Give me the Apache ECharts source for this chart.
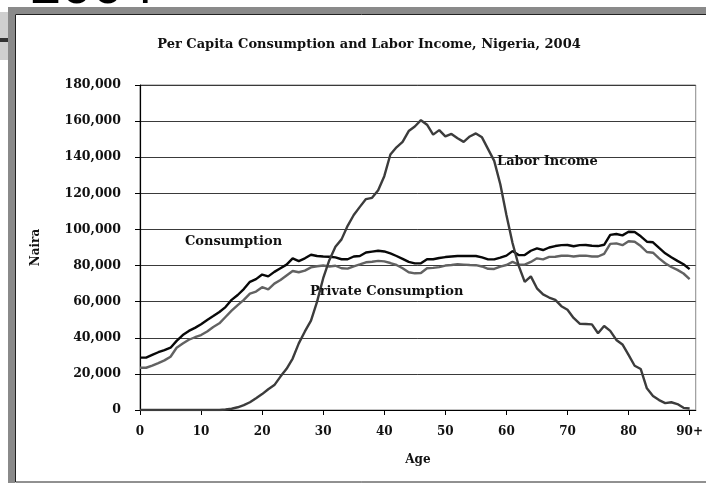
<!DOCTYPE html>
<html>
<head>
<meta charset="utf-8">
<script src="https://cdn.jsdelivr.net/npm/echarts@6/dist/echarts.min.js"></script>
<style>
  html, body { margin: 0; padding: 0; background: #fff; }
  #chartDom { width: 706px; height: 485px; }
</style>
</head>
<body>
<div id="chartDom"></div>
<script>
// ages 0 .. 90 (last one is 90+)
var ages = [];
for (var a = 0; a <= 90; a++) ages.push(a);

var consumption = [
  29000, 29000, 30500, 32000, 33200, 34500, 38300, 41500, 43800, 45500,
  47500, 49800, 52000, 54300, 57000, 61000, 63700, 67000, 71000, 72500,
  75000, 74000, 76500, 78500, 80500, 84000, 82500, 84000, 86000, 85300,
  85000, 84900, 84500, 83500, 83500, 85000, 85300, 87200, 87700, 88200,
  87800, 86700, 85300, 83700, 82000, 81200, 81300, 83500, 83500, 84200,
  84700, 85000, 85300, 85300, 85300, 85300, 84500, 83400, 83400, 84400,
  85500, 88000, 85800, 85800, 88200, 89500, 88600, 90000, 90800, 91300,
  91400, 90700, 91300, 91400, 91000, 90800, 91500, 97000, 97500, 96700,
  98700, 98600, 96200, 93200, 92900, 89800, 86800, 84600, 82600, 80700,
  78000
];
var privateConsumption = [
  23400, 23400, 24600, 26000, 27500, 29500, 34500, 36800, 38900, 40300,
  41500, 43500, 46000, 48000, 51500, 55000, 58100, 61000, 64500, 65600,
  68000, 66800, 70000, 72000, 74500, 77000, 76300, 77200, 79000, 79600,
  80000, 79500, 79900, 78500, 78300, 79600, 80600, 81800, 82100, 82600,
  82300, 81400, 80300, 78500, 76300, 75700, 75900, 78500, 78700, 79100,
  80000, 80300, 80700, 80500, 80300, 80200, 79500, 78200, 78100, 79400,
  80300, 82000, 80500, 80500, 82000, 84000, 83400, 84800, 84900, 85400,
  85500, 85000, 85400, 85500, 85000, 85000, 86500, 92000, 92300, 91300,
  93500, 93200, 90800, 87500, 87100, 84000, 81300, 79200, 77600, 75600,
  72500
];
var laborIncome = [
  0, 0, 0, 0, 0, 0, 0, 0, 0, 0,
  0, 0, 0, 0, 300, 700, 1500, 2700, 4300, 6500,
  8800, 11500, 13800, 18500, 22800, 28500, 36900, 43500, 49500, 60000,
  73000, 83000, 90400, 94500, 102000, 108000, 112500, 116800, 117500, 121700,
  129500, 141500, 145500, 148500, 154500, 157000, 160500, 158000, 152500, 155000,
  151500, 152900, 150500, 148500, 151500, 153200, 151000, 144500, 138000, 125000,
  108000, 92500, 80000, 71000, 74000, 67400, 64000, 62300, 61000, 57500,
  55500, 51000, 47800, 47600, 47400, 42500, 46500, 43800, 38800, 36300,
  30500, 24500, 22700, 12000, 7800, 5500, 3800, 4300, 3300, 1200,
  800
];
var xTicks = [0, 10, 20, 30, 40, 50, 60, 70, 80, 90];
var seriesNames = ['Consumption', 'Private Consumption', 'Labor Income'];

var serif = 'DejaVu Serif';

function pairs(vals) {
  var out = [];
  for (var i = 0; i < vals.length; i++) out.push([ages[i], vals[i]]);
  return out;
}

function lineSeries(name, vals, color) {
  return {
    name: name,
    type: 'line',
    data: pairs(vals),
    showSymbol: false,
    symbol: 'none',
    smooth: false,
    lineStyle: { color: color, width: 2.4 },
    z: 3
  };
}

var chart = echarts.init(document.getElementById('chartDom'));

var option = {
  backgroundColor: '#fff',
  animation: false,
  title: {
    text: 'Per Capita Consumption and Labor Income, Nigeria, 2004',
    left: 364,
    top: 33,
    textAlign: 'center',
    textStyle: { fontFamily: serif, fontWeight: 'bold', fontSize: 13, color: '#111' }
  },
  grid: {
    left: 140, right: 7, top: 85, bottom: 75,
    show: true, borderColor: '#888', borderWidth: 1
  },
  xAxis: {
    type: 'value',
    min: 0,
    max: 91,
    interval: 10,
    name: 'Age',
    nameLocation: 'middle',
    nameGap: 44,
    nameTextStyle: { fontFamily: serif, fontWeight: 'bold', fontSize: 12, color: '#111' },
    axisLine: { show: true, onZero: false, lineStyle: { color: '#000', width: 1.2 } },
    axisTick: { show: true, length: 5, customValues: xTicks, lineStyle: { color: '#000' } },
    axisLabel: {
      customValues: xTicks,
      margin: 16,
      fontFamily: serif, fontWeight: 'bold', fontSize: 12, color: '#111',
      formatter: function (v) { return v === 90 ? '90+' : String(v); }
    },
    splitLine: { show: false }
  },
  yAxis: {
    type: 'value',
    min: 0,
    max: 180000,
    interval: 20000,
    name: 'Naira',
    nameLocation: 'middle',
    nameRotate: 90,
    nameGap: 98,
    nameTextStyle: { fontFamily: serif, fontWeight: 'bold', fontSize: 12, color: '#111' },
    axisLine: { show: true, lineStyle: { color: '#000', width: 1.2 } },
    axisTick: { show: true, length: 5, lineStyle: { color: '#000' } },
    axisLabel: {
      margin: 19,
      fontFamily: serif, fontWeight: 'bold', fontSize: 12.5, color: '#111',
      formatter: function (v) { return echarts.format.addCommas(v); }
    },
    splitLine: { show: true, lineStyle: { color: '#3a3a3a', width: 1 } }
  },
  series: [
    lineSeries(seriesNames[0], consumption, '#080808'),
    lineSeries(seriesNames[1], privateConsumption, '#626262'),
    lineSeries(seriesNames[2], laborIncome, '#3c3c3c')
  ],
  graphic: [
    // slide remains around the chart box
    { type: 'text', left: 30, top: -40, z: 0, style: { text: '2004', font: '56px "Liberation Sans"', fill: '#000' } },
    { type: 'rect', shape: { x: 0, y: 12, width: 8, height: 48 }, z: 1, style: { fill: '#cfcfcf' } },
    { type: 'rect', shape: { x: 0, y: 38, width: 8, height: 4 }, z: 2, style: { fill: '#333' } },
    { type: 'rect', shape: { x: 8, y: 7, width: 698, height: 7 }, z: 1, style: { fill: '#8a8a8a' } },
    { type: 'rect', shape: { x: 8, y: 7, width: 7, height: 476 }, z: 1, style: { fill: '#8a8a8a' } },
    { type: 'rect', shape: { x: 15.5, y: 14.5, width: 700, height: 467.5 }, z: 1, silent: true, style: { fill: null, stroke: '#222', lineWidth: 1 } },
    // in-plot series labels
    { type: 'text', left: 497, top: 155, z: 10, style: { text: seriesNames[2], font: 'bold 13px "DejaVu Serif"', fill: '#111' } },
    { type: 'text', left: 185, top: 235, z: 10, style: { text: seriesNames[0], font: 'bold 13px "DejaVu Serif"', fill: '#111' } },
    { type: 'text', left: 310, top: 285, z: 10, style: { text: seriesNames[1], font: 'bold 13px "DejaVu Serif"', fill: '#111' } }
  ]
};

chart.setOption(option);
</script>
</body>
</html>
